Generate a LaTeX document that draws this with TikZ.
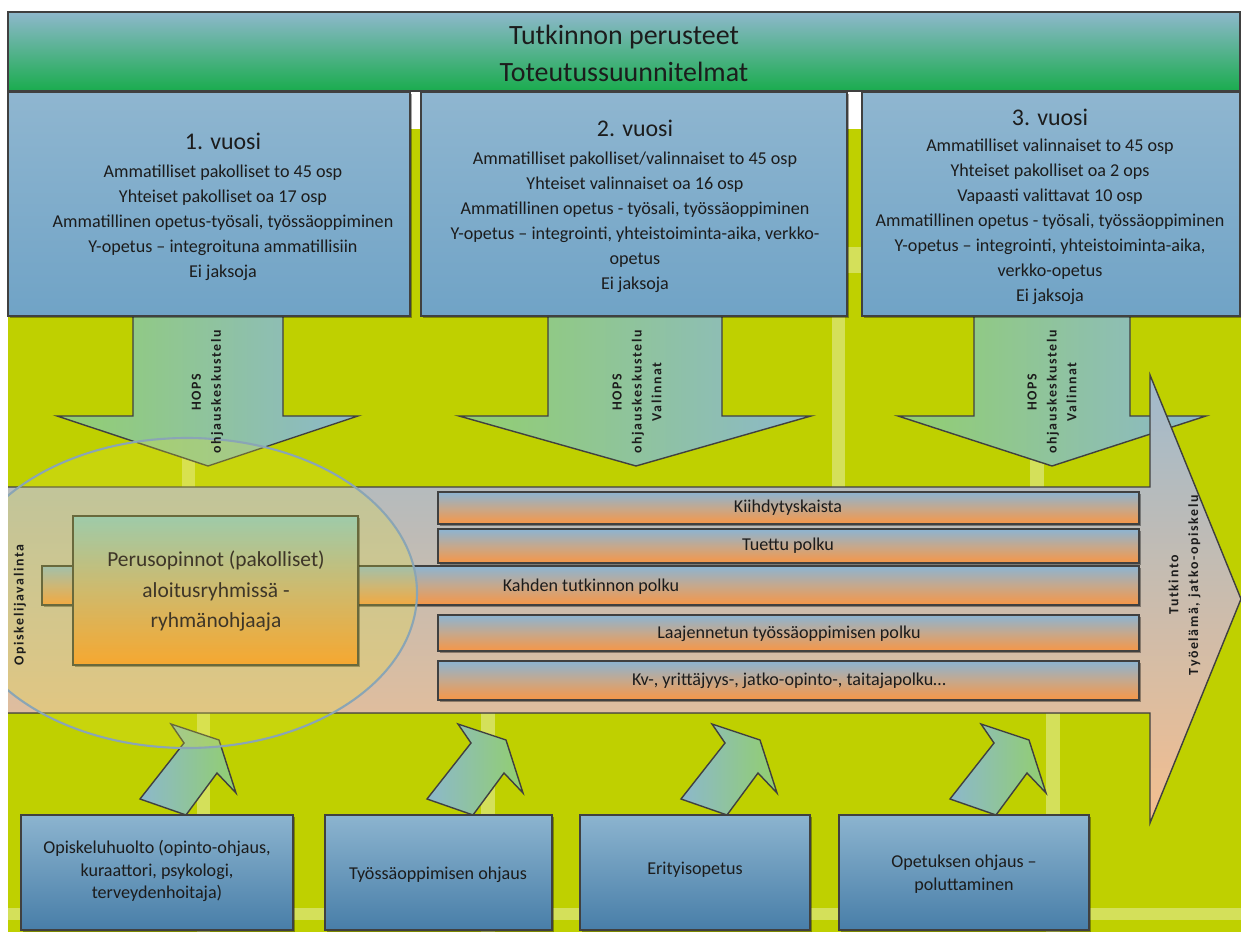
\documentclass[tikz,border=0pt]{standalone}
\usepackage{fontspec}
\setmainfont{Carlito}
\usetikzlibrary{shadows}
\definecolor{limebg}{RGB}{191,208,0}
\definecolor{limelt}{RGB}{212,224,90}
\definecolor{hdrtop}{RGB}{142,184,204}
\definecolor{hdrbot}{RGB}{26,172,78}
\definecolor{yrtop}{RGB}{143,182,208}
\definecolor{yrbot}{RGB}{112,163,198}
\definecolor{arrgreen}{RGB}{146,207,110}
\definecolor{arrblue}{RGB}{140,184,204}
\definecolor{bandtop}{RGB}{160,186,205}
\definecolor{bandbot}{RGB}{244,190,142}
\definecolor{bartop}{RGB}{140,180,210}
\definecolor{barmid}{RGB}{198,168,140}
\definecolor{barbot}{RGB}{247,150,70}
\definecolor{pertop}{RGB}{135,195,210}
\definecolor{permid}{RGB}{200,172,128}
\definecolor{perbot}{RGB}{252,148,48}
\definecolor{bbtop}{RGB}{140,180,207}
\definecolor{bbbot}{RGB}{72,126,168}
\definecolor{edge}{RGB}{64,64,64}
\definecolor{ellc}{RGB}{138,165,181}
\definecolor{ellfill}{RGB}{230,228,50}
\definecolor{txt}{RGB}{28,28,28}
\definecolor{pertxt}{RGB}{62,54,40}
\newcommand\dghdr{\fontsize{15.9}{21}\selectfont}
\newcommand\dgtitle{\fontsize{13.6}{16}\selectfont}
\newcommand\dgbody{\fontsize{10.3}{14.2}\selectfont}
\newcommand\dgper{\fontsize{12.2}{17.3}\selectfont}
\newcommand\dgbot{\fontsize{10.3}{13}\selectfont}
\newcommand\dgvert{\fontsize{7.9}{11.3}\selectfont\bfseries\addfontfeature{LetterSpace=12}}
\begin{document}
\begin{tikzpicture}[x=0.02cm,y=-0.02cm,line join=miter,
  shade/.style={drop shadow={shadow xshift=0.9pt,shadow yshift=-0.9pt,opacity=0.35,fill=black}},
  yearbox/.style={draw=edge,line width=0.8pt,top color=yrtop,bottom color=yrbot,shade},
  hdrbox/.style={draw=edge,line width=0.8pt,top color=hdrtop,bottom color=hdrbot},
  downarrow/.style={draw=edge,line width=0.8pt,left color=arrgreen,right color=arrblue},
  bandfill/.style={top color=bandtop,bottom color=bandbot},
  barbox/.style={draw=edge,line width=0.8pt,top color=bartop,bottom color=barbot,middle color=barmid,shade},
  perbox/.style={draw=edge,line width=0.8pt,top color=pertop,bottom color=perbot,middle color=permid,shade},
  uparrow/.style={draw=edge,line width=0.8pt,left color=arrblue,right color=arrgreen},
  botbox/.style={draw=edge,line width=0.8pt,top color=bbtop,bottom color=bbbot,shade},
  stripe/.style={fill=limelt},
  txtnode/.style={inner sep=0pt,text=txt,align=center},
  vtext/.style={inner sep=0pt,text=txt,align=center,rotate=90,font=\dgvert}]
\useasboundingbox (0,0) rectangle (1241,932);
\fill[white] (0,0) rectangle (1241,932);
\fill[limebg] (8,129) rectangle (1241,932);
% faint background stripes
\fill[stripe] (182,316) rectangle (195,487);
\fill[stripe] (832,129) rectangle (845,487);
\fill[stripe] (1030,316) rectangle (1044,487);
\fill[stripe] (848,247) rectangle (862,273);
\fill[stripe] (197,713) rectangle (210,932);
\fill[stripe] (481,713) rectangle (495,932);
\fill[stripe] (1046,713) rectangle (1060,932);
\fill[stripe] (8,908) rectangle (1241,920);
% down arrows
\draw[downarrow] (133,316) -- (133,416) -- (57,416) -- (208,466) -- (358,416) -- (283,416) -- (283,316) -- cycle;
\draw[downarrow] (548,316) -- (548,416) -- (459,416) -- (636,466) -- (811,416) -- (722,416) -- (722,316) -- cycle;
\draw[downarrow] (974,316) -- (974,416) -- (898,416) -- (1052,466) -- (1206,416) -- (1130,416) -- (1130,316) -- cycle;
% header and year boxes
\draw[hdrbox] (8,12) rectangle (1240,91);
\draw[yearbox] (8,92) rectangle (410,316);
\draw[yearbox] (421,92) rectangle (847,316);
\draw[yearbox] (862,92) rectangle (1240,316);
% big band arrow
\fill[bandfill] (8,487) -- (1150,487) -- (1150,375) -- (1241,599) -- (1150,823) -- (1150,713) -- (8,713) -- cycle;
\draw[edge,line width=0.8pt] (8,487) -- (1150,487) -- (1150,375) -- (1241,599) -- (1150,823) -- (1150,713) -- (8,713);
% path bars
\draw[barbox] (438,492) rectangle (1139,524);
\draw[barbox] (438,529) rectangle (1139,563);
\draw[barbox] (42,566) rectangle (1139,605);
\draw[barbox] (438,615) rectangle (1139,651);
\draw[barbox] (438,661) rectangle (1139,700);
\draw[perbox] (73,516) rectangle (358,665);
% up-right arrows
\foreach \dx in {0,287,541,810}{
  \draw[uparrow,shift={(\dx,0)}] (140,799) -- (184,743) -- (171,724) -- (219,740) -- (236,793) -- (217,773) -- (186,815) -- cycle;
}
% bottom boxes
\draw[botbox] (21,815) rectangle (293,930);
\draw[botbox] (325,815) rectangle (552,930);
\draw[botbox] (580,815) rectangle (810,930);
\draw[botbox] (839,815) rectangle (1089,930);
% ellipse
\begin{scope}
\clip (8,0) rectangle (1241,932);
\fill[ellfill,fill opacity=0.25] (187,593) ellipse [x radius=230,y radius=155];
\draw[ellc,line width=1.2pt] (187,593) ellipse [x radius=230,y radius=155];
\end{scope}
% texts
\node[txtnode,font=\dghdr] (hdr) at (624,53) {Tutkinnon perusteet\\Toteutussuunnitelmat};
\node[txtnode,font=\dgtitle] (t1) at (223,141) {1. vuosi};
\node[txtnode,font=\dgbody] (b1) at (223,222.5) {Ammatilliset pakolliset to 45 osp\\Yhteiset pakolliset oa 17 osp\\Ammatillinen opetus-työsali, työssäoppiminen\\Y-opetus – integroituna ammatillisiin\\Ei jaksoja};
\node[txtnode,font=\dgtitle] (t2) at (635,128) {2. vuosi};
\node[txtnode,font=\dgbody] (b2) at (635,222) {Ammatilliset pakolliset/valinnaiset to 45 osp\\Yhteiset valinnaiset oa 16 osp\\Ammatillinen opetus - työsali, työssäoppiminen\\Y-opetus – integrointi, yhteistoiminta-aika, verkko-\\opetus\\Ei jaksoja};
\node[txtnode,font=\dgtitle] (t3) at (1050,117) {3. vuosi};
\node[txtnode,font=\dgbody] (b3) at (1050,221.5) {Ammatilliset valinnaiset to 45 osp\\Yhteiset pakolliset oa 2 ops\\Vapaasti valittavat 10 osp\\Ammatillinen opetus - työsali, työssäoppiminen\\Y-opetus – integrointi, yhteistoiminta-aika,\\verkko-opetus\\Ei jaksoja};
\node[vtext] (v1) at (207.5,392) {HOPS\\ohjauskeskustelu};
\node[vtext] (v2) at (637,392) {HOPS\\ohjauskeskustelu\\Valinnat};
\node[vtext] (v3) at (1052,392) {HOPS\\ohjauskeskustelu\\Valinnat};
\node[vtext] (vl) at (20,605) {Opiskelijavalinta};
\node[vtext] (vr) at (1184.5,585) {Tutkinto\\Työelämä, jatko-opiskelu};
\node[txtnode,font=\dgbody] (p1) at (788,508) {Kiihdytyskaista};
\node[txtnode,font=\dgbody] (p2) at (788,546) {Tuettu polku};
\node[txtnode,font=\dgbody] (p3) at (591,587) {Kahden tutkinnon polku};
\node[txtnode,font=\dgbody] (p4) at (789,634) {Laajennetun työssäoppimisen polku};
\node[txtnode,font=\dgbody] (p5) at (789,681) {Kv-, yrittäjyys-, jatko-opinto-, taitajapolku…};
\node[txtnode,font=\dgper,text=pertxt] (per) at (216,591) {Perusopinnot (pakolliset)\\aloitusryhmissä -\\ryhmänohjaaja};
\node[txtnode,font=\dgbot] (s1) at (157,871) {Opiskeluhuolto (opinto-ohjaus,\\kuraattori, psykologi,\\terveydenhoitaja)};
\node[txtnode,font=\dgbot] (s2) at (438,875) {Työssäoppimisen ohjaus};
\node[txtnode,font=\dgbot] (s3) at (695,870) {Erityisopetus};
\node[txtnode,font=\dgbot] (s4) at (964,874) {Opetuksen ohjaus –\\poluttaminen};
\end{tikzpicture}
\end{document}
